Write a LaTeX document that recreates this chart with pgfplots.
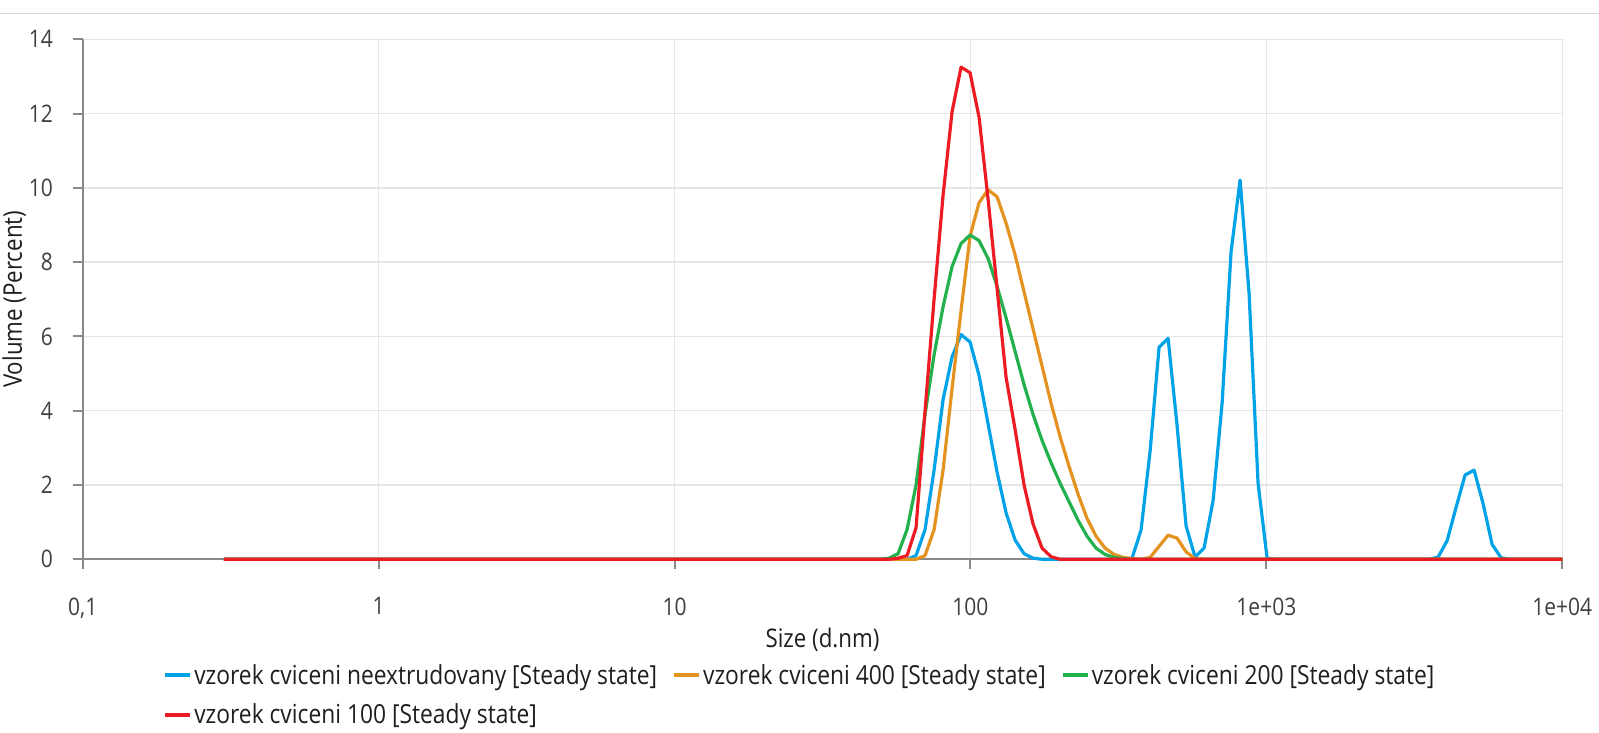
\documentclass[border=0pt]{standalone}
\usepackage{fontspec}
\setmainfont{Open Sans}
\usepackage{graphicx}
\usepackage{pgfplots}
\pgfplotsset{compat=1.18}

\definecolor{cblue}{RGB}{0,162,232}
\definecolor{corange}{RGB}{228,146,32}
\definecolor{cgreen}{RGB}{34,177,76}
\definecolor{cred}{RGB}{237,28,36}
\definecolor{axisgrey}{RGB}{137,137,137}
\definecolor{gridgrey}{RGB}{229,229,229}
\definecolor{topline}{RGB}{214,214,214}
\definecolor{ticktext}{RGB}{64,64,64}
\definecolor{labeltext}{RGB}{30,30,30}

% text in the reference is a little stretched vertically
\newcommand{\sy}[1]{\scalebox{1}[1.15]{#1}}

\begin{document}
\begin{tikzpicture}
\useasboundingbox (0pt,0pt) rectangle (1599pt,733pt);
\draw[line width=1.5pt, topline] (0pt,719.7pt) -- (1599pt,719.7pt);

\begin{axis}[
    at={(82.7pt,173.7pt)}, anchor=south west,
    scale only axis,
    width=1479.6pt, height=520pt,
    xmin=-1, xmax=4, ymin=0, ymax=14,
    clip=false,
    axis lines*=left,
    axis line style={draw=axisgrey, line width=2pt},
    tick align=outside,
    major tick length=10pt,
    tick style={draw=axisgrey, line width=2pt},
    grid=major,
    major grid style={draw=gridgrey, line width=1.5pt},
    xtick={-1,0,1,2,3,4},
    xticklabels={\sy{0,1},\sy{1},\sy{10},\sy{100},\sy{1e+03},\sy{1e+04}},
    ytick={0,2,4,6,8,10,12,14},
    yticklabels={\sy{0},\sy{2},\sy{4},\sy{6},\sy{8},\sy{10},\sy{12},\sy{14}},
    ticklabel style={font=\fontsize{21}{25}\selectfont, text=ticktext, inner sep=0pt},
    xticklabel style={anchor=north, yshift=-28pt},
    yticklabel style={anchor=east, xshift=-19.5pt},
    xlabel={\sy{Size (d.nm)}},
    ylabel={\sy{Volume (Percent)}},
    label style={font=\fontsize{22.3}{26}\selectfont, text=labeltext},
    xlabel style={at={(axis description cs:0.5,-0.155)}, anchor=center},
    ylabel style={at={(axis description cs:-0.0464,0.5)}, anchor=center},
    legend columns=3,
    legend cell align=left,
    legend image code/.code={\draw[#1, line width=4pt, line cap=butt] (0pt,0pt) -- (25pt,0pt);},
    legend style={at={(0.0543,-0.198)}, anchor=north west, draw=none, fill=none,
        inner sep=0pt, row sep=14pt,
        font=\fontsize{22.8}{26}\selectfont, text=labeltext,
        /tikz/every even column/.append style={column sep=13pt}},
    every axis plot/.append style={line width=3.2pt, line join=round},
]

\addplot[cblue] coordinates {
(-0.5229,0) (1.7858,0) (1.8162,0.1) (1.8466,0.8) (1.8771,2.4) (1.9075,4.3)
(1.9379,5.45) (1.9683,6.05) (1.9987,5.85) (2.0291,4.95) (2.0595,3.65)
(2.0900,2.35) (2.1204,1.25) (2.1508,0.52) (2.1812,0.15) (2.2116,0.03)
(2.2420,0) (2.5158,0) (2.5462,0.03) (2.5766,0.79) (2.6070,2.9) (2.6375,5.71)
(2.6679,5.95) (2.6983,3.6) (2.7287,0.9) (2.7591,0.06) (2.7895,0.3)
(2.8200,1.58) (2.8504,4.2) (2.8808,8.28) (2.9112,10.21) (2.9416,7.16)
(2.9720,2.05) (3.0025,0.03) (3.0329,0) (3.5499,0) (3.5804,0.06) (3.6108,0.5)
(3.6412,1.4) (3.6716,2.27) (3.7020,2.4) (3.7324,1.5) (3.7629,0.4)
(3.7933,0.04) (3.8237,0) (4,0)
};
\addlegendentry{\sy{vzorek cviceni neextrudovany [Steady state]}}

\addplot[corange] coordinates {
(-0.5229,0) (1.8162,0) (1.8466,0.1) (1.8771,0.8) (1.9075,2.4) (1.9379,4.6)
(1.9683,6.7) (1.9987,8.7) (2.0291,9.6) (2.0595,9.95) (2.0900,9.76)
(2.1204,9.05) (2.1508,8.2) (2.1812,7.2) (2.2116,6.2) (2.2420,5.2)
(2.2725,4.2) (2.3029,3.3) (2.3333,2.5) (2.3637,1.75) (2.3941,1.1)
(2.4245,0.62) (2.4550,0.3) (2.4854,0.13) (2.5158,0.05) (2.5462,0.02)
(2.5766,0) (2.6070,0.05) (2.6375,0.35) (2.6679,0.65) (2.6983,0.57)
(2.7287,0.2) (2.7591,0.02) (2.7895,0) (4,0)
};
\addlegendentry{\sy{vzorek cviceni 400 [Steady state]}}

\addplot[cgreen] coordinates {
(-0.5229,0) (1.6946,0) (1.7250,0.03) (1.7554,0.15) (1.7858,0.8) (1.8162,2.0)
(1.8466,3.9) (1.8771,5.5) (1.9075,6.8) (1.9379,7.88) (1.9683,8.5)
(1.9987,8.73) (2.0291,8.58) (2.0595,8.1) (2.0900,7.35) (2.1204,6.5)
(2.1508,5.6) (2.1812,4.7) (2.2116,3.9) (2.2420,3.2) (2.2725,2.6)
(2.3029,2.05) (2.3333,1.55) (2.3637,1.05) (2.3941,0.62) (2.4245,0.3)
(2.4550,0.13) (2.4854,0.05) (2.5158,0.02) (2.5462,0) (4,0)
};
\addlegendentry{\sy{vzorek cviceni 200 [Steady state]}}

\addplot[cred] coordinates {
(-0.5229,0) (1.7250,0) (1.7554,0.03) (1.7858,0.1) (1.8162,0.85) (1.8466,4.0)
(1.8771,7.0) (1.9075,9.8) (1.9379,12.05) (1.9683,13.25) (1.9987,13.1)
(2.0291,11.9) (2.0595,9.7) (2.0900,7.3) (2.1204,4.9) (2.1508,3.5)
(2.1812,2.0) (2.2116,0.95) (2.2420,0.3) (2.2725,0.07) (2.3029,0) (4,0)
};
\addlegendentry{\sy{vzorek cviceni 100 [Steady state]}}

\end{axis}
\end{tikzpicture}
\end{document}
